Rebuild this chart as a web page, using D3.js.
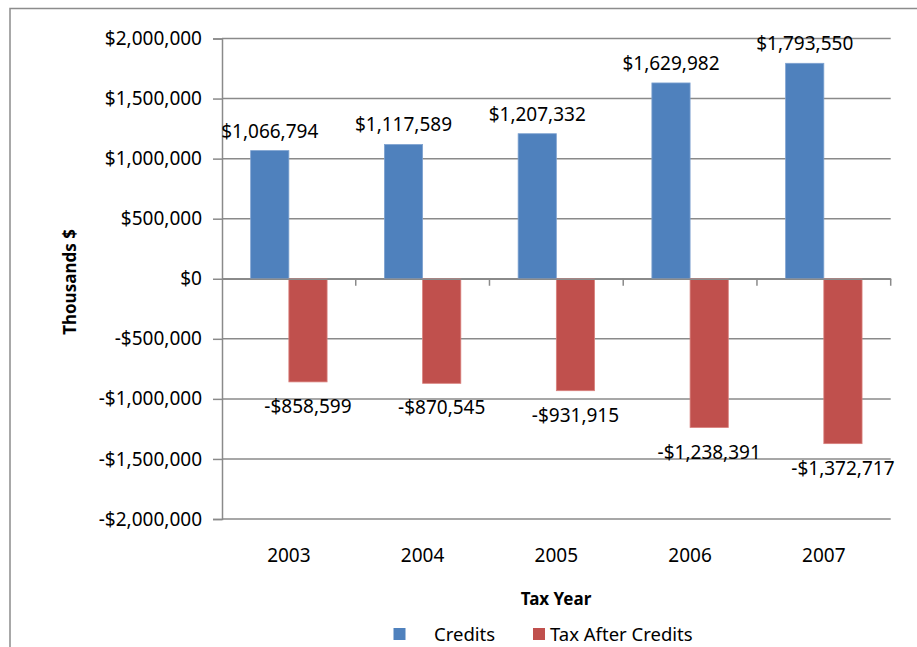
<!DOCTYPE html>
<html>
<head>
<meta charset="utf-8">
<script src="https://cdn.jsdelivr.net/npm/d3@7"></script>
<style>
  html, body { margin: 0; padding: 0; background: #fff; }
  svg { display: block; }
  text { font-family: "Noto Sans", "Open Sans", sans-serif; fill: #000; }
</style>
</head>
<body>
<svg id="chart" width="917" height="647"></svg>
<script>
// Tax years on the category axis
const years = ["2003", "2004", "2005", "2006", "2007"];
// Credits claimed per year (thousands of dollars)
const credits = [1066794, 1117589, 1207332, 1629982, 1793550];
// Tax remaining after credits per year (thousands of dollars)
const taxAfterCredits = [-858599, -870545, -931915, -1238391, -1372717];
// Series names and value-axis ticks
const seriesNames = ["Credits", "Tax After Credits"];
const yTicks = [-2000000, -1500000, -1000000, -500000, 0, 500000, 1000000, 1500000, 2000000];

const colors = ["#4F81BD", "#C0504D"];
const edgeColors = ["#7ea2d0", "#d9807d"];
const gridColor = "#8a8a8a";

const svg = d3.select("#chart");

// Outer chart frame
svg.append("rect")
  .attr("x", 10).attr("y", 8.5)
  .attr("width", 1000).attr("height", 1000)
  .attr("fill", "none")
  .attr("stroke", "#8c8c8c")
  .attr("stroke-width", 1.5);

const plot = { left: 222, right: 890.7, top: 38.5, bottom: 519 };

const x = d3.scaleBand().domain(years).range([plot.left, plot.right]).padding(0);
const y = d3.scaleLinear().domain([-2000000, 2000000]).range([plot.bottom, plot.top]);

const money = v => (v < 0 ? "-$" : "$") + d3.format(",")(Math.abs(v));

// Horizontal gridlines
svg.append("g")
  .selectAll("line")
  .data(yTicks)
  .join("line")
  .attr("x1", plot.left).attr("x2", plot.right)
  .attr("y1", d => y(d)).attr("y2", d => y(d))
  .attr("stroke", gridColor)
  .attr("stroke-width", 1.5);

// Value axis with left tick marks and currency labels
const yAxis = d3.axisLeft(y)
  .tickValues(yTicks)
  .tickSize(9)
  .tickPadding(11)
  .tickFormat(money);

const yAxisG = svg.append("g")
  .attr("transform", `translate(${plot.left},0)`)
  .call(yAxis);
yAxisG.select(".domain").attr("stroke", gridColor).attr("stroke-width", 1.5);
yAxisG.selectAll(".tick line").attr("stroke", gridColor).attr("stroke-width", 1.5);
yAxisG.selectAll(".tick text")
  .attr("font-family", "Noto Sans, Open Sans, sans-serif")
  .attr("font-size", 19)
  .attr("fill", "#000");

// Bars: two series per category, 150% gap width
const barW = x.step() / 3.5;
const seriesData = [credits, taxAfterCredits];

seriesData.forEach((vals, s) => {
  svg.append("g")
    .selectAll("rect")
    .data(vals.map((v, i) => ({ year: years[i], v })))
    .join("rect")
    .attr("x", d => x(d.year) + x.bandwidth() / 2 - barW + s * barW)
    .attr("y", d => Math.min(y(d.v), y(0)))
    .attr("width", barW)
    .attr("height", d => Math.abs(y(d.v) - y(0)))
    .attr("fill", colors[s])
    .attr("stroke", edgeColors[s])
    .attr("stroke-width", 0.8);
});

// Category axis along the zero line
const xAxis = d3.axisBottom(x).tickSize(0).tickFormat("");
const xAxisG = svg.append("g")
  .attr("transform", `translate(0,${y(0)})`)
  .call(xAxis);
xAxisG.select(".domain").attr("stroke", gridColor).attr("stroke-width", 1.5);

// Category boundary tick marks below the zero line
svg.append("g")
  .selectAll("line")
  .data(years.slice(1).map(yr => x(yr)).concat([plot.right]))
  .join("line")
  .attr("x1", d => d).attr("x2", d => d)
  .attr("y1", y(0)).attr("y2", y(0) + 7)
  .attr("stroke", gridColor)
  .attr("stroke-width", 1.5);

// Year labels under the plot
svg.append("g")
  .selectAll("text")
  .data(years)
  .join("text")
  .attr("x", d => x(d) + x.bandwidth() / 2)
  .attr("y", 562)
  .attr("text-anchor", "middle")
  .attr("font-size", 19)
  .text(d => d);

// Data labels
svg.append("g")
  .selectAll("text")
  .data(credits.map((v, i) => ({ year: years[i], v })))
  .join("text")
  .attr("x", d => x(d.year) + x.bandwidth() / 2 - barW / 2)
  .attr("y", d => y(d.v) - 13)
  .attr("text-anchor", "middle")
  .attr("font-size", 19)
  .text(d => money(d.v));

svg.append("g")
  .selectAll("text")
  .data(taxAfterCredits.map((v, i) => ({ year: years[i], v })))
  .join("text")
  .attr("x", d => x(d.year) + x.bandwidth() / 2 + barW / 2)
  .attr("y", d => y(d.v) + 31)
  .attr("text-anchor", "middle")
  .attr("font-size", 19)
  .text(d => money(d.v));

// Axis titles
svg.append("text")
  .attr("transform", `translate(76,282) rotate(-90)`)
  .attr("text-anchor", "middle")
  .attr("font-size", 17)
  .attr("font-weight", "bold")
  .text("Thousands $");

svg.append("text")
  .attr("x", 556).attr("y", 605)
  .attr("text-anchor", "middle")
  .attr("font-size", 17)
  .attr("font-weight", "bold")
  .text("Tax Year");

// Legend
const legendItems = [
  { name: seriesNames[0], color: colors[0], sx: 393.5, tx: 434 },
  { name: seriesNames[1], color: colors[1], sx: 533, tx: 550 }
];
const legend = svg.append("g");
legend.selectAll("rect")
  .data(legendItems)
  .join("rect")
  .attr("x", d => d.sx).attr("y", 628)
  .attr("width", 12).attr("height", 12)
  .attr("fill", d => d.color);
legend.selectAll("text")
  .data(legendItems)
  .join("text")
  .attr("x", d => d.tx).attr("y", 641)
  .attr("font-size", 18.5)
  .text(d => d.name);
</script>
</body>
</html>
